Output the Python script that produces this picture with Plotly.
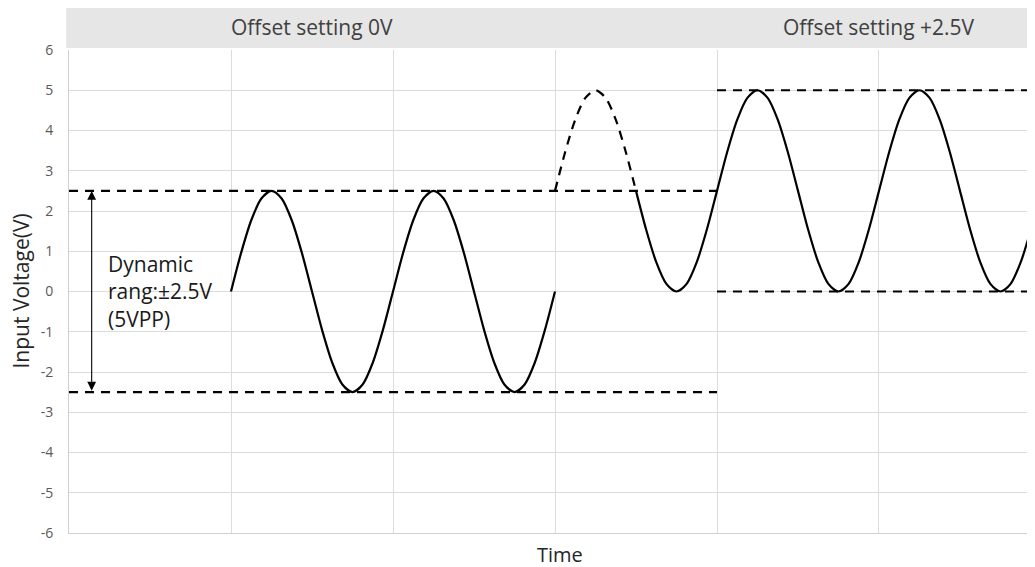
import plotly.graph_objects as go

# Time positions (grid units) and voltages
t_seg1 = [1.0, 1.0625, 1.125, 1.1875, 1.25, 1.3125, 1.375, 1.4375, 1.5,
          1.5625, 1.625, 1.6875, 1.75, 1.8125, 1.875, 1.9375, 2.0,
          2.0625, 2.125, 2.1875, 2.25, 2.3125, 2.375, 2.4375, 2.5,
          2.5625, 2.625, 2.6875, 2.75, 2.8125, 2.875, 2.9375, 3.0]
v_seg1 = [0, 0.96, 1.77, 2.31, 2.5, 2.31, 1.77, 0.96, 0,
          -0.96, -1.77, -2.31, -2.5, -2.31, -1.77, -0.96, 0,
          0.96, 1.77, 2.31, 2.5, 2.31, 1.77, 0.96, 0,
          -0.96, -1.77, -2.31, -2.5, -2.31, -1.77, -0.96, 0]

t_dash = [3.0, 3.0625, 3.125, 3.1875, 3.25, 3.3125, 3.375, 3.4375, 3.5]
v_dash = [2.5, 3.46, 4.27, 4.81, 5.0, 4.81, 4.27, 3.46, 2.5]

t_seg2 = [3.5, 3.5625, 3.625, 3.6875, 3.75, 3.8125, 3.875, 3.9375,
          4.0, 4.0625, 4.125, 4.1875, 4.25, 4.3125, 4.375, 4.4375,
          4.5, 4.5625, 4.625, 4.6875, 4.75, 4.8125, 4.875, 4.9375,
          5.0, 5.0625, 5.125, 5.1875, 5.25, 5.3125, 5.375, 5.4375,
          5.5, 5.5625, 5.625, 5.6875, 5.75, 5.8125, 5.875, 5.9375, 6.0]
v_seg2 = [2.5, 1.54, 0.73, 0.19, 0, 0.19, 0.73, 1.54,
          2.5, 3.46, 4.27, 4.81, 5.0, 4.81, 4.27, 3.46,
          2.5, 1.54, 0.73, 0.19, 0, 0.19, 0.73, 1.54,
          2.5, 3.46, 4.27, 4.81, 5.0, 4.81, 4.27, 3.46,
          2.5, 1.54, 0.73, 0.19, 0, 0.19, 0.73, 1.54, 2.5]

# Reference levels: (start, end, level)
levels_0v = [(0, 4, 2.5), (0, 4, -2.5)]
levels_25v = [(4, 6, 5.0), (4, 6, 0.0)]

header_labels = ["Offset setting 0V", "Offset setting +2.5V"]
header_centers = [1.5, 5.0]
y_ticks = list(range(-6, 7))

fig = go.Figure()

DASH = "9px,7px"
for a, b, lv in levels_0v + levels_25v:
    fig.add_trace(go.Scatter(x=[a, b], y=[lv, lv], mode="lines",
                             line=dict(color="black", width=2.2, dash=DASH),
                             hoverinfo="skip", showlegend=False))

fig.add_trace(go.Scatter(x=t_seg1, y=v_seg1, mode="lines",
                         line=dict(color="black", width=2.2, shape="spline", smoothing=0.8),
                         showlegend=False))
fig.add_trace(go.Scatter(x=t_dash, y=v_dash, mode="lines",
                         line=dict(color="black", width=2.2, shape="spline", smoothing=0.8, dash=DASH),
                         showlegend=False))
fig.add_trace(go.Scatter(x=t_seg2, y=v_seg2, mode="lines",
                         line=dict(color="black", width=2.2, shape="spline", smoothing=0.8),
                         showlegend=False))

# Header band
fig.add_shape(type="rect", xref="paper", yref="paper", x0=-0.003, x1=1.0, y0=1.004, y1=1.09,
              fillcolor="#e6e6e6", line=dict(width=0), layer="below")
for lab, c in zip(header_labels, header_centers):
    fig.add_annotation(x=c, xref="x", y=1.047, yref="paper", yanchor="middle",
                       text=lab, showarrow=False,
                       font=dict(family="Open Sans", size=21, color="#404040"))

# Double arrow for dynamic range
fig.add_annotation(x=0.14, y=2.5, ax=0.14, ay=-2.5, xref="x", yref="y", axref="x", ayref="y",
                   text="", showarrow=True, arrowhead=2, startarrowhead=2, arrowside="end+start",
                   arrowsize=1.6, startarrowsize=1.6, arrowwidth=1.1, arrowcolor="black")
fig.add_annotation(x=0.23, y=0.0, xref="x", yref="y", xanchor="left", yanchor="middle",
                   text="Dynamic<br>rang:±2.5V<br>(5VPP)", align="left", showarrow=False,
                   font=dict(family="Open Sans", size=21, color="#1a1a1a"))

# Axis titles
fig.add_annotation(x=-0.0507, xref="paper", y=0.5, yref="paper", text="Input Voltage(V)",
                   textangle=-90, showarrow=False, xanchor="center",
                   font=dict(family="Open Sans", size=21, color="#262626"))
fig.add_annotation(x=0.508, xref="paper", y=-0.0455, yref="paper", text="Time",
                   showarrow=False, yanchor="middle",
                   font=dict(family="Open Sans", size=20, color="#262626"))

fig.update_layout(
    width=1027, height=559,
    margin=dict(l=61, r=0, t=42, b=34),
    paper_bgcolor="white", plot_bgcolor="white",
    xaxis=dict(range=[0, 5.963], dtick=1, tick0=0, showticklabels=False,
               showgrid=True, gridcolor="#dcdcdc", gridwidth=1,
               zeroline=False, showline=True, linecolor="#d0d0d0", linewidth=1,
               ticks=""),
    yaxis=dict(range=[-6, 6], tickvals=y_ticks, ticktext=[str(v) for v in y_ticks],
               showgrid=True, gridcolor="#dcdcdc", gridwidth=1, zeroline=False,
               showline=True, linecolor="#d0d0d0", linewidth=1, ticks="",
               tickfont=dict(family="Open Sans", size=14, color="#595959"),
               ticklabelstandoff=12),
)

fig.write_html("out.html")
